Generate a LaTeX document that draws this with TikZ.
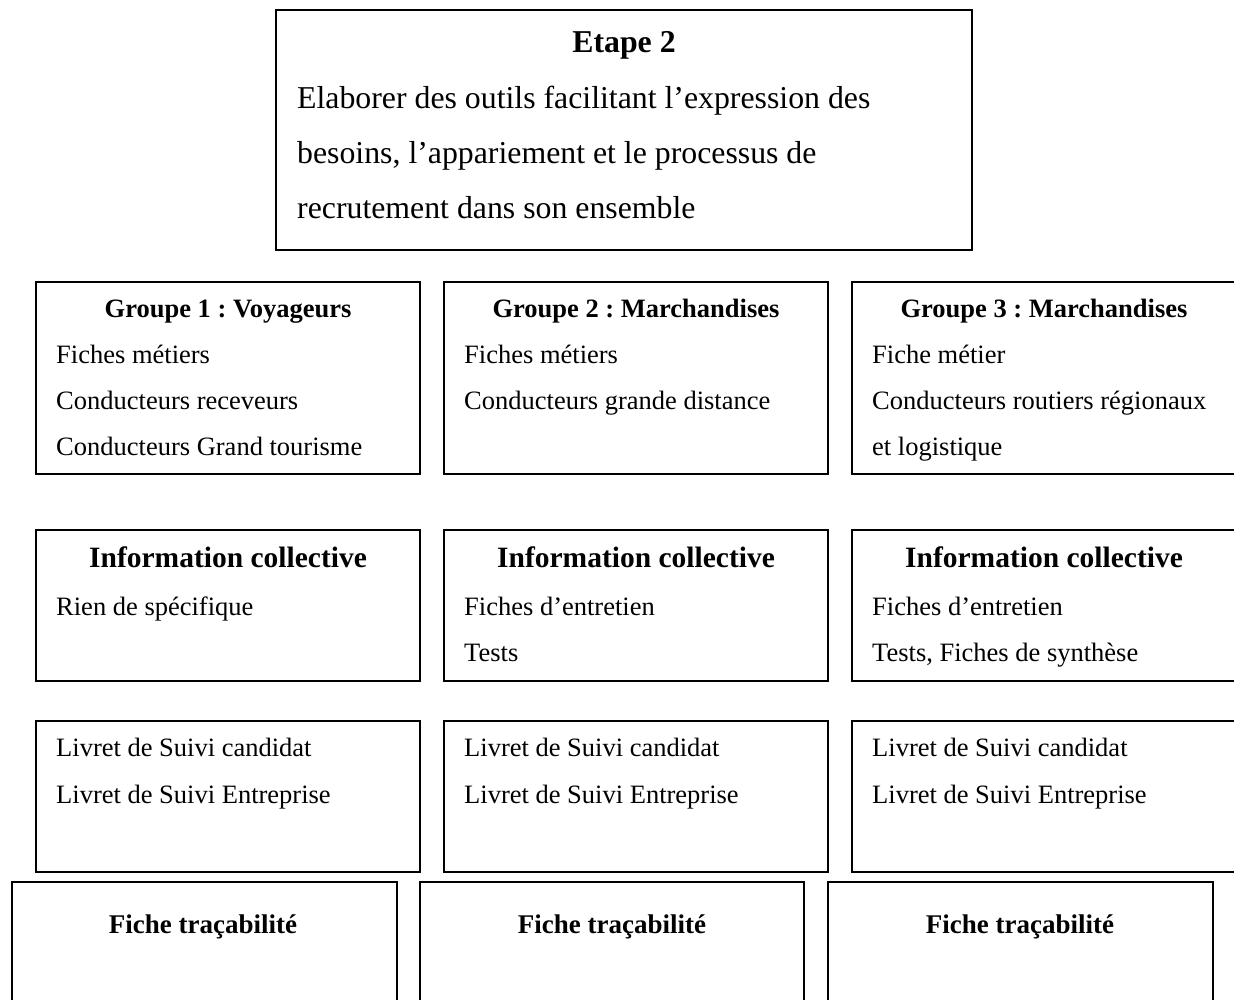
\documentclass[tikz,border=0pt]{standalone}
\usepackage{fontspec}
\setmainfont{Liberation Serif}
\frenchspacing
\begin{document}
\begin{tikzpicture}[x=1pt,y=-1pt,
  boxline/.style={draw=black,line width=2pt},
  txt/.style={anchor=base west,inner sep=0pt,font=\fontsize{26.5}{30}\selectfont},
  hdr/.style={anchor=base,inner sep=0pt,font=\fontsize{26.5}{30}\selectfont\bfseries},
  infohdr/.style={anchor=base,inner sep=0pt,font=\fontsize{29.5}{34}\selectfont\bfseries},
  tracehdr/.style={anchor=base,inner sep=0pt,font=\fontsize{27}{31}\selectfont\bfseries},
  toptxt/.style={anchor=base west,inner sep=0pt,font=\fontsize{31.8}{36}\selectfont},
  tophdr/.style={anchor=base,inner sep=0pt,font=\fontsize{31.8}{36}\selectfont\bfseries}]
\useasboundingbox (0,0) rectangle (1234,999);
\fill[white] (0,0) rectangle (1234,999);
\clip (0,0) rectangle (1234,999);

% top box
\draw[boxline] (276,10) rectangle (972,250);
\node[tophdr] (etape) at (624,52) {Etape 2};
\node[toptxt] (t1) at (297,108) {Elaborer des outils facilitant l’expression des};
\node[toptxt] (t2) at (297,163) {besoins, l’appariement et le processus de};
\node[toptxt] (t3) at (297,218) {recrutement dans son ensemble};

% row 1
\draw[boxline] (36,282) rectangle (420,474);
\draw[boxline] (444,282) rectangle (828,474);
\draw[boxline] (852,282) rectangle (1260,474);
\node[hdr] (g1) at (228,317) {Groupe 1 : Voyageurs};
\node[txt] (g1a) at (56,363) {Fiches métiers};
\node[txt] (g1b) at (56,409) {Conducteurs receveurs};
\node[txt] (g1c) at (56,455) {Conducteurs Grand tourisme};
\node[hdr] (g2) at (636,317) {Groupe 2 : Marchandises};
\node[txt] (g2a) at (464,363) {Fiches métiers};
\node[txt] (g2b) at (464,409) {Conducteurs grande distance};
\node[hdr] (g3) at (1044,317) {Groupe 3 : Marchandises};
\node[txt] (g3a) at (872,363) {Fiche métier};
\node[txt] (g3b) at (872,409) {Conducteurs routiers régionaux};
\node[txt] (g3c) at (872,455) {et logistique};

% row 2
\draw[boxline] (36,530) rectangle (420,681);
\draw[boxline] (444,530) rectangle (828,681);
\draw[boxline] (852,530) rectangle (1260,681);
\node[infohdr] (i1) at (228,567) {Information collective};
\node[txt] (i1a) at (56,615) {Rien de spécifique};
\node[infohdr] (i2) at (636,567) {Information collective};
\node[txt] (i2a) at (464,615) {Fiches d’entretien};
\node[txt] (i2b) at (464,661) {Tests};
\node[infohdr] (i3) at (1044,567) {Information collective};
\node[txt] (i3a) at (872,615) {Fiches d’entretien};
\node[txt] (i3b) at (872,661) {Tests, Fiches de synthèse};

% row 3
\draw[boxline] (36,721) rectangle (420,872);
\draw[boxline] (444,721) rectangle (828,872);
\draw[boxline] (852,721) rectangle (1260,872);
\node[txt] (l1a) at (56,756) {Livret de Suivi candidat};
\node[txt] (l1b) at (56,803) {Livret de Suivi Entreprise};
\node[txt] (l2a) at (464,756) {Livret de Suivi candidat};
\node[txt] (l2b) at (464,803) {Livret de Suivi Entreprise};
\node[txt] (l3a) at (872,756) {Livret de Suivi candidat};
\node[txt] (l3b) at (872,803) {Livret de Suivi Entreprise};

% row 4
\draw[boxline] (12,882) rectangle (397,1020);
\draw[boxline] (420,882) rectangle (804,1020);
\draw[boxline] (828,882) rectangle (1213,1020);
\node[tracehdr] (f1) at (203,933) {Fiche traçabilité};
\node[tracehdr] (f2) at (612,933) {Fiche traçabilité};
\node[tracehdr] (f3) at (1020,933) {Fiche traçabilité};
\end{tikzpicture}
\end{document}
